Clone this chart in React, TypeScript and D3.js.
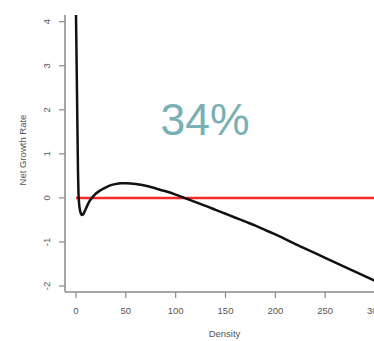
import React from "react";
import * as d3 from "d3";

const densities = [0, 1, 2, 2.5, 3, 4, 5, 6, 7, 8, 10, 12, 14, 16, 20, 25, 30, 35, 40, 45, 50, 55, 60, 70, 80, 90, 100, 110, 120, 130, 140, 150, 160, 170, 180, 190, 200, 225, 250, 275, 300];
const rates = [4.15, 2.4, 0.6, 0.1, -0.1, -0.28, -0.36, -0.39, -0.38, -0.34, -0.24, -0.14, -0.06, 0.0, 0.1, 0.18, 0.24, 0.29, 0.315, 0.33, 0.333, 0.328, 0.315, 0.275, 0.215, 0.15, 0.075, -0.01, -0.095, -0.18, -0.27, -0.36, -0.45, -0.54, -0.63, -0.73, -0.83, -1.1, -1.36, -1.62, -1.88];
const xTicks = [0, 50, 100, 150, 200, 250, 300];
const yTicks = [-2, -1, 0, 1, 2, 3, 4];
const overlayText = "34%";
const xLabel = "Density";
const yLabel = "Net Growth Rate";

export default function App() {
  const x = d3.scaleLinear().domain([0, 300]).range([76, 375]);
  const y = d3.scaleLinear().domain([-2, 4]).range([286, 21.7]);
  const pts: [number, number][] = densities.map((d, i) => [d, rates[i]]);
  const line = d3
    .line<[number, number]>()
    .x((d) => x(d[0]))
    .y((d) => y(d[1]))
    .curve(d3.curveMonotoneX);
  const axisColor = "#8a8a8a";
  const textColor = "#555";
  const font = "'Liberation Sans', Arial, sans-serif";
  const axisY = 292;
  const axisX = 65;
  return (
    <svg
      width={374}
      height={341}
      style={{ position: "absolute", left: 0, top: 0, display: "block", background: "#fff" }}
    >
      <line x1={axisX} x2={axisX} y1={15} y2={axisY} stroke={axisColor} strokeWidth={1.5} />
      <line x1={axisX} x2={374} y1={axisY} y2={axisY} stroke={axisColor} strokeWidth={1.5} />
      {yTicks.map((t) => (
        <g key={"y" + t}>
          <line x1={axisX} x2={59} y1={y(t)} y2={y(t)} stroke={axisColor} strokeWidth={1.2} />
          <text
            transform={`translate(${50},${y(t)}) rotate(-90)`}
            textAnchor="middle"
            fontSize={9.5}
            fontFamily={font}
            fill={textColor}
          >
            {t}
          </text>
        </g>
      ))}
      {xTicks.map((t) => (
        <g key={"x" + t}>
          <line x1={x(t)} x2={x(t)} y1={axisY} y2={298} stroke={axisColor} strokeWidth={1.2} />
          <text
            x={x(t)}
            y={313.5}
            textAnchor="middle"
            fontSize={9.5}
            fontFamily={font}
            fill={textColor}
          >
            {t}
          </text>
        </g>
      ))}
      <text x={x(150) - 1} y={337} textAnchor="middle" fontSize={9.5} fontFamily={font} fill={textColor}>
        {xLabel}
      </text>
      <text
        transform={`translate(${26},${150}) rotate(-90)`}
        textAnchor="middle"
        fontSize={9.5}
        fontFamily={font}
        fill={textColor}
      >
        {yLabel}
      </text>
      <line x1={x(0)} x2={374} y1={y(0)} y2={y(0)} stroke="#f52a2a" strokeWidth={2.5} />
      <path d={line(pts) || ""} fill="none" stroke="#111" strokeWidth={2.5} strokeLinejoin="round" />
      <text x={160.5} y={135} fontSize={44.5} fontFamily={font} fill="#7aafb5">
        {overlayText}
      </text>
    </svg>
  );
}
